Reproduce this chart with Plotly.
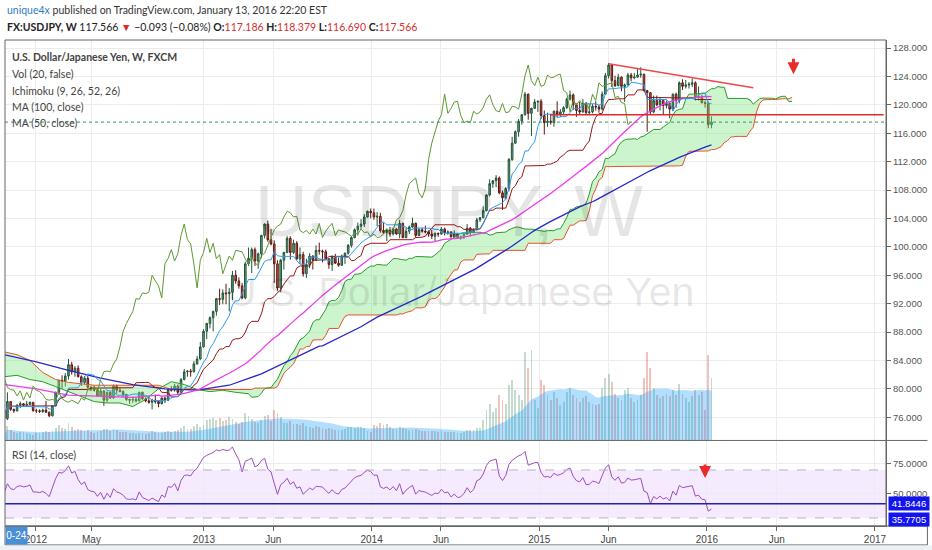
import pandas as pd
import plotly.graph_objects as go

START = pd.Timestamp("2011-10-24")

# ---------------- weekly candles (2011-10-24 .. 2016-01-11) ----------------
opens = [
    76.7, 75.8, 78.2, 77.1, 76.9, 77.7, 77.9, 77.7, 77.8, 78.1,
    76.9, 76.9, 76.8, 77.0, 76.7, 76.2, 77.6, 79.5, 81.2, 81.1, 81.8, 83.4, 82.4, 82.9, 81.7, 80.9, 81.5, 80.2,
    79.9, 79.8, 79.0, 79.7, 78.4, 79.5, 78.7, 80.4, 79.8, 79.6, 79.2, 78.5, 78.4, 78.5, 78.3, 79.5, 78.6, 78.3,
    78.1, 78.4, 78.2, 77.9, 78.7, 78.4, 79.9, 79.8, 80.4, 79.5, 81.3, 82.4, 82.5, 82.4, 83.5, 84.2, 85.9,
    88.1, 89.2, 90.0, 90.9, 92.7, 92.6, 93.5, 93.4, 93.6, 96.0, 95.2, 94.5, 92.8, 97.6, 98.4, 99.6, 98.0, 99.0,
    101.6, 103.2, 101.0, 100.4, 97.6, 94.2, 98.1, 99.2, 101.2, 99.2, 100.5, 98.3, 98.9, 96.2, 97.5, 98.7, 98.1,
    99.5, 99.4, 99.3, 98.3, 97.5, 98.6, 97.7, 97.4, 98.7, 99.1, 100.2, 101.3, 102.4, 102.9, 103.2, 104.2, 105.0,
    104.8, 104.2, 104.3, 102.3, 102.0, 102.3, 101.8, 102.5, 101.8, 103.3, 101.3, 102.2, 102.8, 103.3, 101.6,
    102.4, 102.2, 102.1, 101.8, 101.5, 101.9, 101.8, 102.5, 102.0, 102.1, 101.4, 101.8, 101.3, 101.4, 101.8,
    102.6, 102.0, 102.4, 103.8, 104.1, 105.1, 107.3, 108.9, 109.3, 109.7, 107.6, 106.9, 108.2, 112.3, 114.6,
    116.2, 117.7, 118.6, 121.5, 118.8, 119.5, 120.4,
    120.5, 118.5, 117.5, 117.7, 117.5, 119.1, 118.7, 119.0, 119.6, 120.8, 121.4, 120.0, 119.2, 119.0, 120.2,
    118.9, 119.0, 119.8, 119.7, 119.4, 121.5, 124.1, 125.6, 123.4, 122.7, 123.9, 122.6, 122.8, 124.2, 123.8,
    123.9, 124.2, 124.3, 122.0, 121.7, 119.0, 120.6, 120.0, 120.6, 119.9, 120.2, 119.4, 121.5, 120.6, 123.1,
    122.6, 122.8, 122.9, 123.1, 121.0, 121.2, 120.3,
    120.2, 117.186,
]
highs = [
    76.8, 79.5, 78.2, 77.2, 77.8, 78.2, 78.0, 78.3, 78.2, 78.1,
    77.2, 77.1, 77.2, 78.3, 76.8, 77.6, 79.6, 81.3, 81.9, 82.2, 84.2, 83.8, 83.2, 83.3, 81.9, 81.8, 81.8, 80.4,
    80.2, 80.1, 80.0, 79.8, 79.6, 79.6, 80.6, 80.6, 80.2, 79.8, 79.3, 78.6, 78.9, 78.8, 79.6, 79.6, 78.8, 78.9,
    78.6, 79.2, 78.3, 78.8, 78.9, 80.0, 80.4, 80.7, 80.6, 81.5, 82.8, 82.6, 82.8, 83.9, 84.6, 86.6, 88.4,
    89.3, 90.2, 91.0, 92.8, 94.1, 94.0, 94.8, 94.2, 96.6, 96.7, 95.7, 94.9, 97.9, 99.9, 99.9, 99.9, 99.2,
    101.7, 103.3, 103.7, 102.5, 100.9, 98.1, 98.3, 99.3, 101.5, 101.5, 101.0, 100.8, 99.9, 99.3, 98.3, 99.1,
    98.8, 100.2, 100.6, 99.6, 99.6, 98.4, 98.8, 99.0, 98.5, 98.9, 99.2, 100.4, 101.5, 102.6, 103.4, 103.9,
    104.6, 105.1, 105.4,
    105.4, 104.9, 104.8, 103.4, 102.5, 102.8, 102.7, 102.6, 103.8, 103.4, 102.7, 103.0, 104.1, 103.4, 102.6,
    102.7, 103.0, 102.3, 102.4, 102.0, 102.0, 102.8, 102.7, 102.3, 102.2, 102.3, 101.9, 101.6, 101.9, 103.2,
    102.8, 102.6, 104.1, 104.2, 105.7, 107.4, 109.5, 109.4, 110.1, 109.9, 107.9, 108.4, 112.5, 115.5, 116.4,
    118.0, 118.7, 121.8, 121.6, 119.6, 120.8, 120.6,
    120.8, 119.2, 118.9, 118.7, 119.2, 120.5, 119.4, 119.8, 121.0, 122.0, 121.6, 120.2, 120.4, 120.8, 120.4,
    120.1, 120.1, 120.5, 120.0, 121.9, 124.5, 125.9, 125.7, 124.1, 124.4, 124.0, 123.0, 124.5, 124.5, 124.5,
    125.1, 125.3, 124.4, 122.1, 121.8, 121.3, 121.3, 121.0, 120.8, 120.6, 120.3, 121.6, 121.7, 123.3, 123.6,
    123.5, 123.2, 123.7, 123.3, 122.6, 121.4, 120.6,
    120.5, 118.379,
]
lows = [
    75.7, 75.6, 76.9, 76.6, 76.8, 77.3, 77.5, 77.6, 77.7, 76.8,
    76.6, 76.6, 76.6, 76.6, 76.0, 76.1, 77.5, 79.2, 80.0, 80.3, 81.3, 82.0, 81.7, 81.6, 80.4, 80.6, 80.0, 79.7,
    79.6, 78.9, 78.9, 77.6, 78.1, 78.6, 78.6, 79.3, 79.5, 78.8, 78.3, 77.9, 78.0, 78.1, 78.2, 78.4, 78.1, 77.9,
    77.1, 77.9, 77.4, 77.8, 78.0, 78.3, 79.6, 79.6, 79.1, 79.4, 81.2, 81.7, 81.7, 82.3, 83.4, 84.1, 85.8,
    87.0, 88.5, 88.1, 90.3, 91.8, 91.9, 91.9, 90.9, 92.5, 94.8, 94.1, 92.6, 92.6, 97.3, 96.3, 97.3, 96.9,
    98.4, 101.2, 100.7, 100.2, 94.9, 93.8, 93.6, 96.8, 99.1, 98.2, 99.0, 98.1, 97.6, 95.8, 95.6, 97.0,
    96.8, 98.0, 98.9, 97.8, 98.2, 96.9, 96.6, 97.6, 97.2, 97.3, 97.6, 98.9, 99.9, 101.2, 101.6, 102.4,
    102.8, 104.1, 104.0,
    103.8, 102.9, 102.0, 101.8, 100.8, 101.4, 101.6, 101.7, 101.2, 101.2, 101.2, 101.8, 102.7, 101.3, 101.5,
    102.0, 101.9, 101.4, 101.1, 100.8, 101.4, 101.7, 101.6, 101.7, 101.3, 101.3, 101.1, 101.0, 101.1, 101.7,
    101.5, 101.9, 102.3, 103.5, 104.0, 105.0, 107.1, 108.3, 108.4, 107.4, 105.2, 106.7, 107.8, 112.1, 114.5,
    115.5, 117.2, 118.5, 117.9, 115.6, 119.4, 119.0,
    118.0, 115.8, 116.9, 117.2, 116.9, 118.3, 118.3, 118.6, 119.4, 120.6, 119.3, 118.3, 118.7, 118.9, 118.6,
    118.6, 118.8, 119.2, 118.9, 119.2, 121.4, 123.7, 122.5, 122.5, 122.6, 121.9, 120.4, 122.7, 123.3, 123.6,
    123.8, 123.8, 121.9, 116.2, 118.6, 118.8, 119.8, 119.2, 118.7, 119.5, 118.1, 119.1, 119.6, 120.2, 122.1,
    122.3, 122.3, 122.5, 120.6, 120.6, 120.2, 119.6,
    116.7, 116.690,
]
closes = [
    75.8, 78.2, 77.1, 76.9, 77.7, 77.9, 77.7, 77.8, 78.1, 76.9,
    76.9, 76.8, 77.0, 76.7, 76.2, 77.6, 79.5, 81.2, 81.1, 81.8, 83.4, 82.4, 82.9, 81.7, 80.9, 81.5, 80.2, 79.9,
    79.8, 79.0, 79.7, 78.4, 79.5, 78.7, 80.4, 79.8, 79.6, 79.2, 78.5, 78.4, 78.5, 78.3, 79.5, 78.6, 78.3, 78.1,
    78.4, 78.2, 77.9, 78.7, 78.4, 79.9, 79.8, 80.4, 79.5, 81.3, 82.4, 82.5, 82.4, 83.5, 84.2, 85.9, 88.1,
    89.2, 90.0, 90.9, 92.7, 92.6, 93.5, 93.4, 93.6, 96.0, 95.2, 94.5, 92.8, 97.6, 98.4, 99.6, 98.0, 99.0,
    101.6, 103.2, 101.0, 100.4, 97.6, 94.2, 98.1, 99.2, 101.2, 99.2, 100.5, 98.3, 98.9, 96.2, 97.5, 98.7,
    98.1, 99.5, 99.4, 99.3, 98.3, 97.5, 98.6, 97.7, 97.4, 98.7, 99.1, 100.2, 101.3, 102.4, 102.9, 103.2,
    104.2, 105.0, 104.8,
    104.2, 104.3, 102.3, 102.0, 102.3, 101.8, 102.5, 101.8, 103.3, 101.3, 102.2, 102.8, 103.3, 101.6, 102.4,
    102.2, 102.1, 101.8, 101.5, 101.9, 101.8, 102.5, 102.0, 102.1, 101.4, 101.8, 101.3, 101.4, 101.8, 102.6,
    102.0, 102.4, 103.8, 104.1, 105.1, 107.3, 108.9, 109.3, 109.7, 107.6, 106.9, 108.2, 112.3, 114.6, 116.2,
    117.7, 118.6, 121.5, 118.8, 119.5, 120.4, 120.5,
    118.5, 117.5, 117.7, 117.5, 119.1, 118.7, 119.0, 119.6, 120.8, 121.4, 120.0, 119.2, 119.0, 120.2, 118.9,
    119.0, 119.8, 119.7, 119.4, 121.5, 124.1, 125.6, 123.4, 122.7, 123.9, 122.6, 122.8, 124.2, 123.8, 123.9,
    124.2, 124.3, 122.0, 121.7, 119.0, 120.6, 120.0, 120.6, 119.9, 120.2, 119.4, 121.5, 120.6, 123.1, 122.6,
    122.8, 122.9, 123.1, 121.0, 121.2, 120.3, 120.2,
    117.2, 117.566,
]
volumes = [
    6, 14, 10, 8, 7, 8, 8, 7, 6, 5,
    7, 7, 8, 9, 8, 9, 12, 15, 12, 11, 17, 13, 10, 11, 10, 9, 10, 8, 7, 8, 9, 11, 11, 9, 11, 10,
    8, 8, 8, 7, 7, 6, 7, 7, 6, 7, 9, 8, 7, 7, 8, 9, 8, 9, 10, 12, 14, 11, 11, 14, 16, 13, 15,
    20, 21, 22, 20, 22, 19, 20, 23, 21, 18, 16, 18, 27, 24, 21, 18, 17, 20, 24, 25, 19, 30, 27, 23, 17,
    17, 19, 16, 16, 15, 17, 14, 13, 12, 14, 13, 12, 11, 12, 11, 10, 10, 10, 11, 13, 13, 12, 13, 13, 12, 9, 8,
    15, 14, 17, 15, 16, 13, 11, 11, 13, 12, 11, 10, 10, 11, 10, 9, 9, 9, 9, 9, 8, 9, 8, 8, 8, 8,
    7, 7, 8, 10, 10, 10, 12, 12, 20, 30, 36, 28, 32, 45, 40, 36, 55, 60, 50, 45, 40, 88, 72, 90, 40, 32,
    60, 55, 45, 40, 48, 42, 35, 38, 48, 52, 45, 42, 38, 42, 44, 38, 36, 35, 36, 52, 62, 66, 58, 46, 42, 40,
    50, 52, 42, 38, 40, 45, 62, 88, 72, 52, 45, 42, 44, 46, 44, 50, 45, 56, 46, 42, 38, 44, 50, 45, 48, 30,
    85, 62,
]

# ---------------- indicator values for the early part ----------------
cloud_early_weeks = [0, 4, 8, 12, 16, 20, 24, 28, 32, 36, 40, 44, 48, 52, 56, 60, 64, 68, 72, 76]
span_a_early = [81.7, 81.9, 81.3, 81.0, 80.3, 79.6, 78.8, 78.2, 78.0, 78.0, 77.5, 78.5, 80.0, 81.0,
                80.6, 79.9, 79.6, 79.8, 79.5, 79.3]
span_b_early = [85.2, 84.8, 84.0, 82.3, 81.3, 80.9, 80.7, 80.5, 80.5, 80.5, 80.5, 80.5, 80.5, 79.9,
                79.9, 79.9, 79.9, 79.9, 79.9, 79.9]
ma100_early_weeks = [0, 10, 20, 30, 40, 50, 60, 70, 80, 89, 98]
ma100_early = [84.8, 83.8, 82.6, 81.5, 80.6, 80.0, 79.8, 80.5, 82.1, 84.0, 86.0]
ma50_early_weeks = [0, 10, 20, 30, 40, 48]
ma50_early = [80.6, 80.0, 79.1, 78.9, 78.8, 79.1]
rsi_seed_gain, rsi_seed_loss = 0.52, 0.50

# user drawings
trend_dates = ["2015-06-01", "2016-04-11"]
trend_vals = [125.8, 122.4]
hline_dates = ["2015-01-26", "2017-01-20"]
hline_vals = [118.6, 118.6]
rsi_hline = 41.8446
rsi_last_label = 35.7705

# axis ticks
price_ticks = [76, 80, 84, 88, 92, 96, 100, 104, 108, 112, 116, 120, 124, 128]
date_ticks = ["2012-01-01", "2012-05-01", "2013-01-01", "2013-06-01", "2014-01-01", "2014-06-01",
              "2015-01-01", "2015-06-01", "2016-01-01", "2016-06-01", "2017-01-01"]
date_tick_text = ["2012", "May", "2013", "Jun", "2014", "Jun", "2015", "Jun", "2016", "Jun", "2017"]

n = len(closes)
assert len(opens) == n and len(highs) == n and len(lows) == n and len(volumes) == n

def wk(i):
    return START + pd.Timedelta(weeks=i)

dates = [wk(i) for i in range(n)]
H = pd.Series(highs); L = pd.Series(lows); C = pd.Series(closes); V = pd.Series(volumes)
DISP = 25

conv = (H.rolling(9, min_periods=1).max() + L.rolling(9, min_periods=1).min()) / 2
base = (H.rolling(26, min_periods=1).max() + L.rolling(26, min_periods=1).min()) / 2
lead_a = (conv + base) / 2
lead_b = (H.rolling(52, min_periods=1).max() + L.rolling(52, min_periods=1).min()) / 2

cloud_x = [wk(i) for i in cloud_early_weeks] + [wk(j + DISP) for j in range(52, n)]
cloud_a = span_a_early + list(lead_a[52:])
cloud_b = span_b_early + list(lead_b[52:])

lag_x = [wk(j - DISP) for j in range(n)]

ma100 = C.rolling(100).mean()
ma100_x = [wk(i) for i in ma100_early_weeks] + dates[99:]
ma100_y = ma100_early + list(ma100[99:])
ma50 = C.rolling(50).mean()
ma50_x = [wk(i) for i in ma50_early_weeks] + dates[49:]
ma50_y = ma50_early + list(ma50[49:])

vol_ma = V.rolling(20, min_periods=1).mean()
vol_colors = ["rgba(107,165,131,0.40)" if c >= o else "rgba(215,84,66,0.35)" for o, c in zip(opens, closes)]

ag, al = rsi_seed_gain, rsi_seed_loss
rsi = [100 - 100 / (1 + ag / al)]
for k in range(1, n):
    d = closes[k] - closes[k - 1]
    ag = (ag * 13 + max(d, 0)) / 14
    al = (al * 13 + max(-d, 0)) / 14
    rsi.append(100 - 100 / (1 + ag / al))

fig = go.Figure()
ln = dict(hoverinfo="skip", showlegend=False)
fig.add_trace(go.Scatter(x=cloud_x, y=cloud_b, mode="lines", line=dict(color="#e8532b", width=1), **ln))
fig.add_trace(go.Scatter(x=cloud_x, y=cloud_a, mode="lines", line=dict(color="#2a9a2a", width=1),
                         fill="tonexty", fillcolor="rgba(130,230,130,0.40)", **ln))
fig.add_trace(go.Scatter(x=ma100_x, y=ma100_y, mode="lines", line=dict(color="#2727c8", width=1.3), **ln))
fig.add_trace(go.Scatter(x=ma50_x, y=ma50_y, mode="lines", line=dict(color="#ee3aee", width=1.3), **ln))
fig.add_trace(go.Scatter(x=dates, y=base, mode="lines", line=dict(color="#991515", width=1), **ln))
fig.add_trace(go.Scatter(x=dates, y=conv, mode="lines", line=dict(color="#2c9cf0", width=1), **ln))
fig.add_trace(go.Scatter(x=lag_x, y=closes, mode="lines", line=dict(color="#5c9a30", width=1), **ln))
fig.add_trace(go.Candlestick(
    x=dates, open=opens, high=highs, low=lows, close=closes,
    increasing=dict(line=dict(color="#225437", width=1), fillcolor="#6ba583"),
    decreasing=dict(line=dict(color="#5b1a13", width=1), fillcolor="#d75442"),
    whiskerwidth=0, **ln))
fig.add_trace(go.Scatter(x=trend_dates, y=trend_vals, mode="lines", line=dict(color="#f04848", width=1.5), **ln))
fig.add_trace(go.Scatter(x=hline_dates, y=hline_vals, mode="lines", line=dict(color="#e02b2b", width=1.5), **ln))

# volume (overlay axis)
fig.add_trace(go.Scatter(x=dates, y=vol_ma, mode="lines", line=dict(width=0, color="rgba(4,150,255,0)"),
                         fill="tozeroy", fillcolor="rgba(4,150,255,0.30)", yaxis="y3", **ln))
fig.add_trace(go.Bar(x=dates, y=volumes, marker=dict(color=vol_colors, line=dict(width=0)),
                     width=4 * 86400000, yaxis="y3", **ln))

# RSI
fig.add_trace(go.Scatter(x=dates, y=rsi, mode="lines", line=dict(color="#9b4fbf", width=1),
                         xaxis="x2", yaxis="y2", **ln))

X_RANGE = [START + pd.Timedelta(days=1.75), pd.Timestamp("2017-01-25")]
MAIN_DOM = [0.177, 1.0]
RSI_DOM = [0.0, 0.175]
FONT = "Lato, Liberation Sans, Arial, sans-serif"
AXF = dict(family="Liberation Sans, Arial", size=9.5, color="#555")

fig.update_layout(
    width=932, height=550, margin=dict(l=5, r=42, t=40, b=24),
    paper_bgcolor="white", plot_bgcolor="white", showlegend=False, hovermode=False,
    bargap=0,
    xaxis=dict(domain=[0, 1], range=X_RANGE, type="date", anchor="y", showticklabels=False,
               tickvals=date_ticks, showgrid=True, gridcolor="#ececec", zeroline=False,
               rangeslider=dict(visible=False), ticks=""),
    xaxis2=dict(domain=[0, 1], range=X_RANGE, type="date", anchor="y2", matches="x",
                tickvals=date_ticks, ticktext=date_tick_text, showgrid=True, gridcolor="#ececec",
                ticks="outside", ticklen=4, tickcolor="#666",
                tickfont=dict(family="Liberation Sans, Arial", size=10, color="#444"),
                showline=True, linecolor="#666", zeroline=False),
    yaxis=dict(domain=MAIN_DOM, range=[72.79, 129.13], side="right", anchor="x",
               tickvals=price_ticks, tickformat=".3f", tickfont=AXF, ticks="outside", ticklen=4,
               tickcolor="#666", showline=True, linecolor="#666", showgrid=True, gridcolor="#ececec",
               zeroline=False),
    yaxis3=dict(overlaying="y", range=[0, 400], visible=False, anchor="x"),
    yaxis2=dict(domain=RSI_DOM, range=[23.3, 94.2], side="right", anchor="x2",
                tickvals=[50, 75], tickformat=".4f", tickfont=AXF, ticks="outside", ticklen=4,
                tickcolor="#666", showline=True, linecolor="#666", showgrid=True, gridcolor="#ececec",
                zeroline=False),
)

shapes = [
    dict(type="rect", xref="paper", yref="y2", x0=0, x1=1, y0=30, y1=70,
         fillcolor="rgba(153,21,255,0.09)", line=dict(width=0), layer="below"),
    dict(type="line", xref="paper", yref="y2", x0=0, x1=1, y0=70, y1=70,
         line=dict(color="#bcb0c8", width=1, dash="dash")),
    dict(type="line", xref="paper", yref="y2", x0=0, x1=1, y0=30, y1=30,
         line=dict(color="#bcb0c8", width=1, dash="dash")),
    dict(type="line", xref="paper", yref="y2", x0=0, x1=1, y0=rsi_hline, y1=rsi_hline,
         line=dict(color="#2222b0", width=1.5)),
    dict(type="line", xref="paper", yref="y", x0=0, x1=1, y0=closes[-1], y1=closes[-1],
         line=dict(color="#3f8f60", width=1, dash="dot")),
    # frame
    dict(type="rect", xref="paper", yref="paper", x0=0, x1=1, y0=0, y1=1, line=dict(color="#666", width=1)),
    dict(type="line", xref="paper", yref="paper", x0=0, x1=1.047, y0=0.176, y1=0.176,
         line=dict(color="#666", width=1)),
    dict(type="rect", xref="paper", yref="paper", x0=0, x1=1.047, y0=-0.039, y1=0,
         line=dict(color="#666", width=1)),
    dict(type="rect", xref="paper", yref="paper", x0=-0.01, x1=1.06, y0=-0.06, y1=-0.04,
         fillcolor="#eef1f4", line=dict(width=0)),
]
fig.update_layout(shapes=shapes)

ann = []
# watermark
ann.append(dict(xref="paper", yref="paper", x=0.504, y=0.650, text="USDJPY, W", showarrow=False,
                font=dict(family="Liberation Sans, Arial", size=73, color="rgba(0,0,0,0.10)")))
ann.append(dict(xref="paper", yref="paper", x=0.517, y=0.481, text="U.S. Dollar/Japanese Yen", showarrow=False,
                font=dict(family="Liberation Sans, Arial", size=41, color="rgba(0,0,0,0.10)")))
# header
ann.append(dict(xref="paper", yref="paper", x=0, y=1.0617, xanchor="left", yanchor="middle", showarrow=False,
                text="<span style='color:#2f7bbf'>unique4x</span> published on TradingView.com, January 13, 2016 22:20 EST",
                font=dict(family=FONT, size=10.5, color="#333")))
red = "#d32f2f"
hdr2 = ("<b>FX:USDJPY, W</b> 117.566 <span style='color:%s'>▼</span> −0.093 (−0.08%%) "
        "<b>O:</b><span style='color:%s'>117.186</span> <b>H:</b><span style='color:%s'>118.379</span> "
        "<b>L:</b><span style='color:%s'>116.690</span> <b>C:</b><span style='color:%s'>117.566</span>") % (red, red, red, red, red)
ann.append(dict(xref="paper", yref="paper", x=0, y=1.0267, xanchor="left", yanchor="middle", showarrow=False,
                text=hdr2, font=dict(family=FONT, size=10.5, color="#222")))
# pane legends
legend_lines = [("<b>U.S. Dollar/Japanese Yen, W, FXCM</b>", 0.965), ("Vol (20, false)", 0.930),
                ("Ichimoku (9, 26, 52, 26)", 0.895), ("MA (100, close)", 0.862), ("MA (50, close)", 0.829)]
for t, yy in legend_lines:
    ann.append(dict(xref="paper", yref="paper", x=0, xshift=5, y=yy, xanchor="left", yanchor="middle",
                    showarrow=False, text=t, font=dict(family=FONT, size=10.5, color="#444")))
ann.append(dict(xref="paper", yref="paper", x=0, xshift=5, y=0.146, xanchor="left", yanchor="middle",
                showarrow=False, text="RSI (14, close)", font=dict(family=FONT, size=10.5, color="#444")))
# arrows
ann.append(dict(x=wk(245.5), y=124.3, xref="x", yref="y", text="", showarrow=True, arrowhead=2,
                arrowsize=0.8, arrowwidth=3, arrowcolor="#e82c2c", ax=0, ay=-17))
ann.append(dict(x=wk(218), y=63.3, xref="x2", yref="y2", text="", showarrow=True, arrowhead=2,
                arrowsize=0.8, arrowwidth=3, arrowcolor="#e82c2c", ax=0, ay=-15))
# price labels on RSI axis
for v, yv in [(rsi_hline, rsi_hline), (rsi_last_label, 28.6)]:
    ann.append(dict(xref="paper", yref="y2", x=1, xshift=2, y=yv, xanchor="left", yanchor="middle",
                    showarrow=False, text="%.4f" % v, bgcolor="#1414f0", borderpad=1, width=38,
                    font=dict(family="Liberation Sans, Arial", size=9.5, color="white")))
# date label box at bottom-left
ann.append(dict(xref="paper", yref="paper", x=0, y=-0.0195, xanchor="left", yanchor="middle",
                showarrow=False, text="0-24", bgcolor="#4a8fd6", borderpad=0, width=21, height=17,
                font=dict(family="Liberation Sans, Arial", size=10, color="white")))
fig.update_layout(annotations=ann)

fig.write_html("out.html", config={"displayModeBar": False},
               post_script="document.body.style.margin='0';document.body.style.overflow='hidden';")
